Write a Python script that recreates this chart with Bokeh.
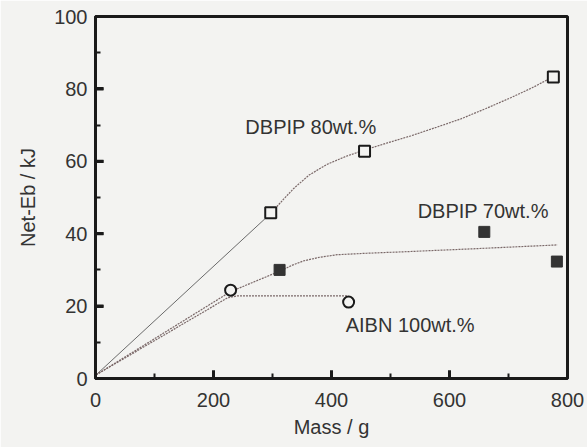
from bokeh.plotting import figure
from bokeh.models import FixedTicker, Range1d, Label
from bokeh.embed import file_html
from bokeh.resources import INLINE

# --- data ---
dbpip80_x = [297, 456, 776]
dbpip80_y = [45.8, 62.8, 83.3]
dbpip70_x = [312, 659, 782]
dbpip70_y = [30.0, 40.5, 32.3]
aibn_x = [229, 429]
aibn_y = [24.4, 21.1]

# guide curves
c80_solid_x = [1, 297]
c80_solid_y = [1, 45.6]
c80_x = [297, 318, 336, 362, 393, 425, 454, 495, 534, 578, 619, 662, 703, 740, 775]
c80_y = [45.6, 49.4, 52.5, 56.2, 59.2, 61.4, 63, 65.1, 67, 69.4, 71.7, 74.6, 77.5, 80.3, 83.3]
c70_x = [1, 229, 313, 335, 353, 380, 410, 460, 522, 636, 783]
c70_y = [1, 24.0, 29.7, 31.4, 32.5, 33.5, 34.2, 34.6, 35.0, 35.8, 36.9]
caibn_x = [1, 224, 240, 427]
caibn_y = [1, 22.3, 22.8, 22.8]

x_ticks = [0, 200, 400, 600, 800]
x_minor = [100, 300, 500, 700]
y_ticks = [0, 20, 40, 60, 80, 100]
y_minor = [10, 30, 50, 70, 90]

labels = ["DBPIP 80wt.%", "DBPIP 70wt.%", "AIBN 100wt.%"]
label_x = [254, 546, 424]
label_y = [69.4, 46.3, 14.7]

FONT = "Liberation Sans"
BG = "#f3f3f1"
INK = "#1a1a1a"
CURVE = "#7a6868"

p = figure(width=587, height=447, output_backend="svg", toolbar_location=None,
           x_range=Range1d(0, 800), y_range=Range1d(0, 100),
           min_border_left=95, min_border_right=20, min_border_top=16, min_border_bottom=69,
           background_fill_color=BG, border_fill_color=BG)
p.grid.visible = False
p.outline_line_color = INK
p.outline_line_width = 3

for ax, (tk, mn) in ((p.xaxis[0], (x_ticks, x_minor)), (p.yaxis[0], (y_ticks, y_minor))):
    ax.ticker = FixedTicker(ticks=tk, minor_ticks=mn)
    ax.axis_line_width = 3
    ax.axis_line_color = INK
    ax.major_tick_in = 8
    ax.major_tick_out = 0
    ax.minor_tick_in = 5
    ax.minor_tick_out = 0
    ax.major_tick_line_color = INK
    ax.major_tick_line_width = 3
    ax.minor_tick_line_width = 2
    ax.minor_tick_line_color = INK
    ax.major_label_text_font = FONT
    ax.major_label_text_font_size = "20px"
    ax.major_label_text_color = "#333333"
    ax.axis_label_text_font = FONT
    ax.axis_label_text_font_size = "20px"
    ax.axis_label_text_font_style = "normal"
    ax.axis_label_text_color = "#333333"

p.xaxis.axis_label = "Mass / g"
p.yaxis.axis_label = "Net-Eb / kJ"
p.xaxis.major_label_standoff = 14
p.xaxis.axis_label_standoff = 6
p.yaxis.major_label_standoff = 8
p.yaxis.axis_label_standoff = 12

# inward major ticks drawn through the plot's scales (8 px long)
x_px = 472 / 800.0
y_px = 362 / 100.0
p.segment(x0=x_ticks, y0=[0] * len(x_ticks), x1=x_ticks, y1=[8 / y_px] * len(x_ticks),
          line_color=INK, line_width=3)
p.segment(x0=[0] * len(y_ticks), y0=y_ticks, x1=[8 / x_px] * len(y_ticks), y1=y_ticks,
          line_color=INK, line_width=3)

# curves
p.line(c80_solid_x, c80_solid_y, line_color="#6a6a6a", line_width=1)
p.line(c80_x, c80_y, line_color=CURVE, line_width=1.2, line_dash="2 1")
p.line(c70_x, c70_y, line_color=CURVE, line_width=1.2, line_dash="2 1")
p.line(caibn_x, caibn_y, line_color=CURVE, line_width=1.2, line_dash="2 1")

# markers
p.scatter(dbpip80_x, dbpip80_y, marker="square", size=11, fill_color=BG,
          line_color=INK, line_width=2)
p.scatter(dbpip70_x, dbpip70_y, marker="square", size=11, fill_color="#333333",
          line_color="#333333", line_width=1)
p.scatter(aibn_x, aibn_y, marker="circle", size=11, fill_color=BG,
          line_color=INK, line_width=2)

for t, x, y in zip(labels, label_x, label_y):
    p.add_layout(Label(x=x, y=y, text=t, text_font=FONT, text_font_size="20px",
                       text_color="#333333", text_baseline="alphabetic"))

open("out.html", "w").write(file_html(p, INLINE))
